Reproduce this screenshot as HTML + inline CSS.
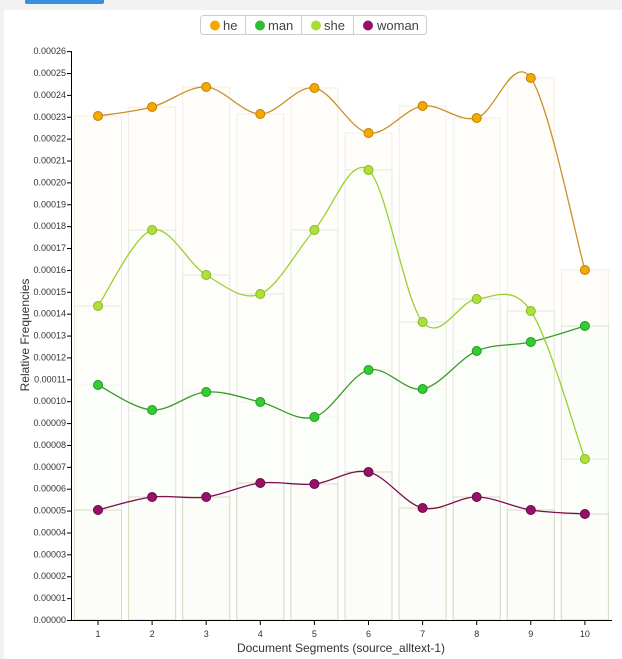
<!DOCTYPE html>
<html><head><meta charset="utf-8"><style>
html,body{margin:0;padding:0;background:#f2f2f2;width:622px;height:659px;overflow:hidden;font-family:"Liberation Sans",sans-serif}
</style></head><body>
<svg id="s" width="622" height="659" xmlns="http://www.w3.org/2000/svg" style="position:absolute;left:0;top:0">
<rect x="25" y="-4" width="79" height="8" rx="2" fill="#3a8ee0"/>
<rect x="4" y="10" width="618" height="649" fill="#fff"/>
<g id="bars"></g>
<g id="axes" font-size="9" fill="#333"></g>
<g id="lines"></g>
<g font-size="13" fill="#444">
<rect x="200.5" y="15.5" width="226" height="19" rx="3" fill="#fff" stroke="#ccc"/>
<line x1="245.5" y1="16" x2="245.5" y2="34" stroke="#ccc"/>
<line x1="301.5" y1="16" x2="301.5" y2="34" stroke="#ccc"/>
<line x1="353.5" y1="16" x2="353.5" y2="34" stroke="#ccc"/>
<circle cx="215" cy="25.5" r="5" fill="#f5a800"/><text x="223" y="30">he</text>
<circle cx="260" cy="25.5" r="5" fill="#33bb33"/><text x="268" y="30">man</text>
<circle cx="316" cy="25.5" r="5" fill="#aadd33"/><text x="324" y="30">she</text>
<circle cx="368" cy="25.5" r="5" fill="#991166"/><text x="377" y="30">woman</text>
</g>
<text x="341" y="652" font-size="12" fill="#333" text-anchor="middle">Document Segments (source_alltext-1)</text>
<text transform="translate(29,335) rotate(-90)" font-size="12" fill="#333" text-anchor="middle">Relative Frequencies</text>
</svg>
<script>
var NS="http://www.w3.org/2000/svg";
function el(p,t,a,txt){var e=document.createElementNS(NS,t);for(var k in a)e.setAttribute(k,a[k]);if(txt!=null)e.textContent=txt;document.getElementById(p).appendChild(e);return e;}
var X0=71,Y0=620,step=21.88;
function xc(i){return 98+i*54.1;}
var series=[
 {c:"#f5a800",s:"#c08000",l:"#c8902a",y:[116,107,87,114,88,133,106,118,78,270],bf:"#fffcf8",bs:"#f3ece3"},
 {c:"#3c3",s:"#229922",l:"#3a9a2a",y:[385,410,392,402,417,370,389,351,342,326],bf:"#fafcf8",bs:"#dde5d6"},
 {c:"#ade03a",s:"#88b822",l:"#9ad030",y:[306,230,275,294,230,170,322,299,311,459],bf:"#fcfdf9",bs:"#e5ebdc"},
 {c:"#991166",s:"#660a44",l:"#7a1050",y:[510,497,497,483,484,472,508,497,510,514],bf:"#fcfcfa",bs:"#d6dcc4"}
];
series.forEach(function(S){S.y.forEach(function(y,i){el("bars","rect",{x:xc(i)-23.5,y:y,width:47,height:Y0-y,fill:S.bf,"fill-opacity":0.7,stroke:S.bs,"stroke-width":1});});});
el("axes","line",{x1:X0+.5,y1:51,x2:X0+.5,y2:Y0+.5,stroke:"#000"});
el("axes","line",{x1:X0,y1:Y0+.5,x2:612,y2:Y0+.5,stroke:"#000"});
for(var k=0;k<=26;k++){var y=Y0-k*step;el("axes","line",{x1:X0-4,y1:y+.5,x2:X0,y2:y+.5,stroke:"#000"});
 el("axes","text",{x:X0-5,y:y+3,"text-anchor":"end"},(k/100000).toFixed(5));}
for(var i=0;i<10;i++){el("axes","line",{x1:xc(i),y1:Y0,x2:xc(i),y2:Y0+5,stroke:"#000"});el("axes","text",{x:xc(i),y:Y0+17,"text-anchor":"middle"},String(i+1));}
series.forEach(function(S){var p=S.y.map(function(y,i){return [xc(i),y];});var d="M"+p[0];
 for(var i=0;i<p.length-1;i++){var p0=p[i>0?i-1:i],p1=p[i],p2=p[i+1],p3=p[i+2<p.length?i+2:i+1];
  var c1=[p1[0]+(p2[0]-p0[0])/6,p1[1]+(p2[1]-p0[1])/6],c2=[p2[0]-(p3[0]-p1[0])/6,p2[1]-(p3[1]-p1[1])/6];
  d+="C"+c1+" "+c2+" "+p2;}
 el("lines","path",{d:d,fill:"none",stroke:S.l,"stroke-width":1.3});
 p.forEach(function(q){el("lines","circle",{cx:q[0],cy:q[1],r:4.5,fill:S.c,stroke:S.s,"stroke-width":1});});});
</script>
</body></html>
